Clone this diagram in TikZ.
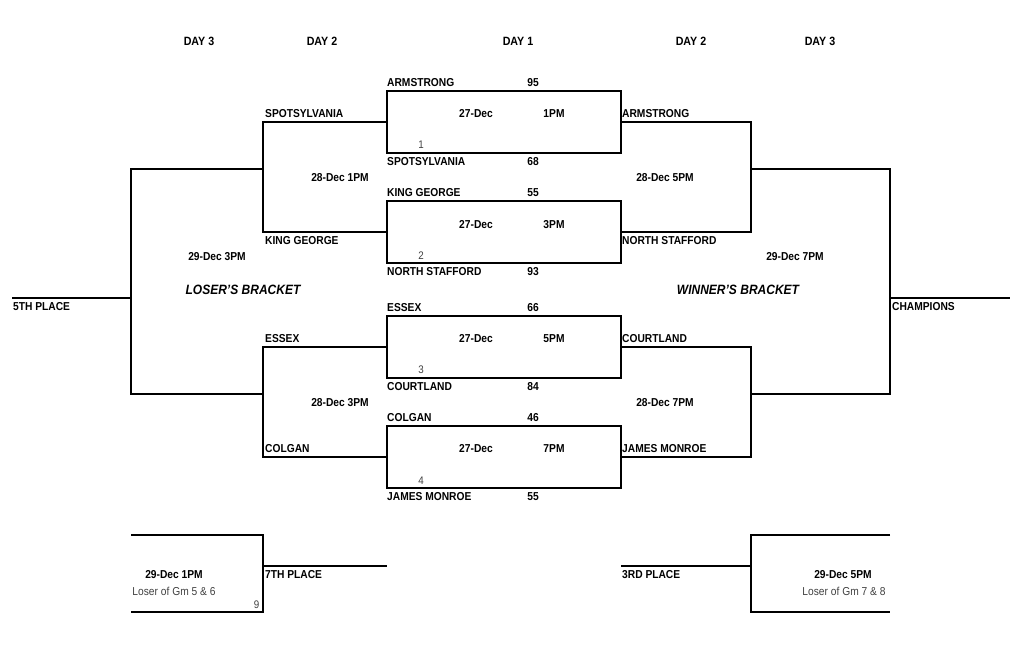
\documentclass[tikz,border=0pt]{standalone}
\usepackage{fontspec}
\setmainfont{Liberation Sans}[FakeStretch=0.89]
\begin{document}
\begin{tikzpicture}[x=1pt,y=-1pt,
  wire/.style={line width=2pt, line join=miter},
  gamebox/.style={draw, line width=2pt, minimum width=234pt, minimum height=62pt, inner sep=0pt},
  team/.style={font=\fontsize{11.5}{12}\selectfont\bfseries, anchor=west, inner sep=0pt},
  lbl/.style={font=\fontsize{11.5}{12}\selectfont\bfseries, inner sep=0pt},
  hdr/.style={font=\fontsize{12}{13}\selectfont\bfseries, inner sep=0pt},
  brk/.style={font=\fontsize{13.5}{14}\selectfont\bfseries\itshape, inner sep=0pt},
  gnum/.style={font=\fontsize{11}{12}\selectfont, text=black!75, inner sep=0pt},
  note/.style={font=\fontsize{11.5}{12}\selectfont, text=black!75, inner sep=0pt}]
\useasboundingbox (0,0) rectangle (1019,645);

% headers
\node[hdr] (h1) at (199,41) {DAY 3};
\node[hdr] (h2) at (322,41) {DAY 2};
\node[hdr] (h3) at (518,41) {DAY 1};
\node[hdr] (h4) at (691,41) {DAY 2};
\node[hdr] (h5) at (820,41) {DAY 3};

% day 1 game boxes
\node[gamebox] (g1) at (504,122) {};
\node[gamebox] (g2) at (504,232) {};
\node[gamebox] (g3) at (504,346.5) {};
\node[gamebox] (g4) at (504,457) {};

% loser bracket lines
\coordinate (L1) at (263,122);
\coordinate (L2) at (263,232);
\coordinate (L3) at (263,346.5);
\coordinate (L4) at (263,457);
\coordinate (L12) at (263,169);
\coordinate (L34) at (263,394);
\coordinate (LL1) at (131,169);
\coordinate (LL2) at (131,394);
\coordinate (LLm) at (131,298);
\coordinate (P5) at (12,298);
\draw[wire] (g1.west) -- (L1) -- (L2) -- (g2.west);
\draw[wire] (g3.west) -- (L3) -- (L4) -- (g4.west);
\draw[wire] (L12) -- (LL1) -- (LL2) -- (L34);
\draw[wire] (LLm) -- (P5);

% winner bracket lines
\coordinate (R1) at (751,122);
\coordinate (R2) at (751,232);
\coordinate (R3) at (751,346.5);
\coordinate (R4) at (751,457);
\coordinate (R12) at (751,169);
\coordinate (R34) at (751,394);
\coordinate (RR1) at (890,169);
\coordinate (RR2) at (890,394);
\coordinate (RRm) at (890,298);
\coordinate (PC) at (1010,298);
\draw[wire] (g1.east) -- (R1) -- (R2) -- (g2.east);
\draw[wire] (g3.east) -- (R3) -- (R4) -- (g4.east);
\draw[wire] (R12) -- (RR1) -- (RR2) -- (R34);
\draw[wire] (RRm) -- (PC);

% 7th place game
\coordinate (B1) at (131,535);
\coordinate (B2) at (263,535);
\coordinate (B3) at (263,612);
\coordinate (B4) at (131,612);
\coordinate (B5) at (263,566);
\coordinate (B6) at (387,566);
\draw[wire] (B1) -- (B2) -- (B3) -- (B4);
\draw[wire] (B5) -- (B6);

% 3rd place game
\coordinate (C1) at (890,535);
\coordinate (C2) at (751,535);
\coordinate (C3) at (751,612);
\coordinate (C4) at (890,612);
\coordinate (C5) at (751,566);
\coordinate (C6) at (621,566);
\draw[wire] (C1) -- (C2) -- (C3) -- (C4);
\draw[wire] (C5) -- (C6);

% day 1 texts
\node[team] (t1a) at (387,82.5) {ARMSTRONG};
\node[lbl]  (s1a) at (533,82.5) {95};
\node[lbl]  (d1)  at (476,114) {27-Dec};
\node[lbl]  (m1)  at (554,114) {1PM};
\node[gnum] (n1)  at (421,145) {1};
\node[team] (t1b) at (387,162) {SPOTSYLVANIA};
\node[lbl]  (s1b) at (533,162) {68};

\node[team] (t2a) at (387,193) {KING GEORGE};
\node[lbl]  (s2a) at (533,193) {55};
\node[lbl]  (d2)  at (476,225) {27-Dec};
\node[lbl]  (m2)  at (554,225) {3PM};
\node[gnum] (n2)  at (421,256) {2};
\node[team] (t2b) at (387,272) {NORTH STAFFORD};
\node[lbl]  (s2b) at (533,272) {93};

\node[team] (t3a) at (387,308) {ESSEX};
\node[lbl]  (s3a) at (533,308) {66};
\node[lbl]  (d3)  at (476,339) {27-Dec};
\node[lbl]  (m3)  at (554,339) {5PM};
\node[gnum] (n3)  at (421,370) {3};
\node[team] (t3b) at (387,387) {COURTLAND};
\node[lbl]  (s3b) at (533,387) {84};

\node[team] (t4a) at (387,418) {COLGAN};
\node[lbl]  (s4a) at (533,418) {46};
\node[lbl]  (d4)  at (476,449) {27-Dec};
\node[lbl]  (m4)  at (554,449) {7PM};
\node[gnum] (n4)  at (421,481) {4};
\node[team] (t4b) at (387,497) {JAMES MONROE};
\node[lbl]  (s4b) at (533,497) {55};

% loser side texts
\node[team] (l1) at (265,114) {SPOTSYLVANIA};
\node[team] (l2) at (265,241) {KING GEORGE};
\node[lbl]  (l12) at (340,178) {28-Dec 1PM};
\node[team] (l3) at (265,339) {ESSEX};
\node[team] (l4) at (265,449) {COLGAN};
\node[lbl]  (l34) at (340,403) {28-Dec 3PM};
\node[lbl]  (lf) at (217,256.5) {29-Dec 3PM};
\node[brk]  (lb) at (243,290) {LOSER'S BRACKET};
\node[team] (p5) at (13,307) {5TH PLACE};

% winner side texts
\node[team] (r1) at (622,114) {ARMSTRONG};
\node[team] (r2) at (622,241) {NORTH STAFFORD};
\node[lbl]  (r12) at (665,178) {28-Dec 5PM};
\node[team] (r3) at (622,339) {COURTLAND};
\node[team] (r4) at (622,449) {JAMES MONROE};
\node[lbl]  (r34) at (665,403) {28-Dec 7PM};
\node[lbl]  (rf) at (795,256.5) {29-Dec 7PM};
\node[brk]  (wb) at (738,290) {WINNER'S BRACKET};
\node[team] (pc) at (892,307) {CHAMPIONS};

% bottom texts
\node[lbl]  (b7d) at (174,575) {29-Dec 1PM};
\node[note] (b7n) at (174,591) {Loser of Gm 5 \& 6};
\node[gnum] (n9)  at (256.5,604.5) {9};
\node[team] (p7)  at (265,575) {7TH PLACE};
\node[team] (p3)  at (622,575) {3RD PLACE};
\node[lbl]  (b3d) at (843,575) {29-Dec 5PM};
\node[note] (b3n) at (844,591) {Loser of Gm 7 \& 8};
\end{tikzpicture}
\end{document}
